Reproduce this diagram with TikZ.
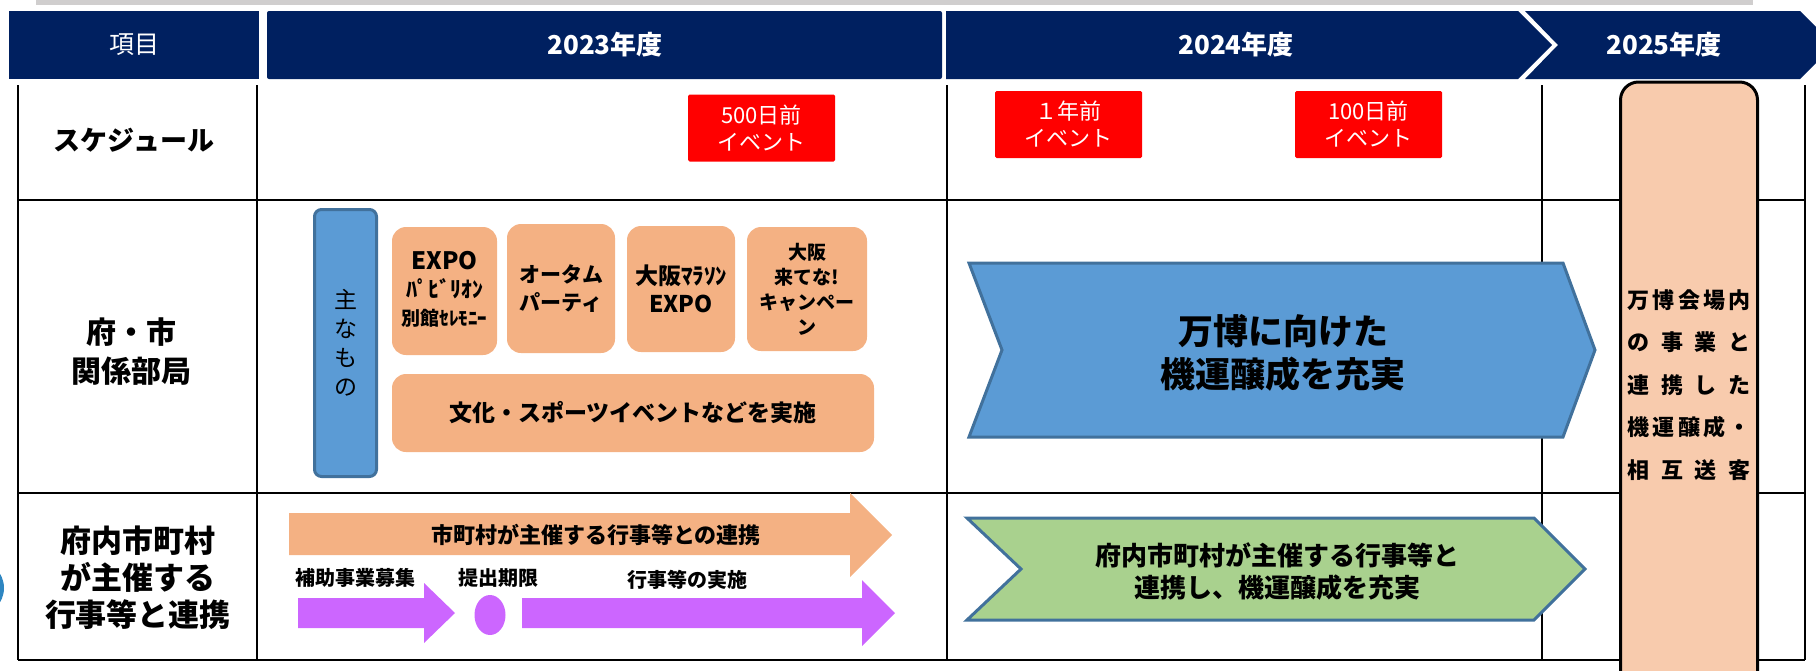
\documentclass[tikz,border=0pt]{standalone}
\usepackage{fontspec}
\setmainfont{Noto Sans CJK JP}
\usetikzlibrary{shapes.geometric}
\definecolor{navy}{HTML}{002060}
\definecolor{evred}{HTML}{FF0000}
\definecolor{oran}{HTML}{F4B183}
\definecolor{bluef}{HTML}{5B9BD5}
\definecolor{blued}{HTML}{41719C}
\definecolor{greenf}{HTML}{A9D18E}
\definecolor{peach}{HTML}{F8CBAD}
\definecolor{purp}{HTML}{CC66FF}
\definecolor{grayb}{HTML}{D0CECE}
\definecolor{edgeblue}{HTML}{2E86C1}
\newcommand\fsz[2]{\fontsize{#1pt}{#2pt}\selectfont}
\tikzset{
  hdrtext/.style={text=white, inner sep=0},
  gridline/.style={line width=2.5pt, black},
  redbox/.style={fill=evred, text=white, rounded corners=1.5pt, minimum width=147pt, minimum height=67pt, inner sep=0, align=center, font=\fsz{22}{27}},
  obox/.style={fill=oran, rounded corners=14pt, inner sep=0, align=center},
  label/.style={inner sep=0, align=center, text=black},
  chevblue/.style={fill=bluef, draw=blued, line width=3pt, line join=miter},
  chevgreen/.style={fill=greenf, draw=blued, line width=3pt, line join=miter},
  purparrow/.style={fill=purp},
}
\begin{document}
\begin{tikzpicture}[x=1pt, y=-1pt]
\useasboundingbox (0,0) rectangle (1816,670);
\clip (0,0) rectangle (1816,670);
% top gray bar
\fill[grayb] (36,0) rectangle (1753,5);
% header
\fill[navy] (9,11) rectangle (259,79);
\fill[navy, rounded corners=2pt] (267,11) rectangle (942,79);
\fill[navy] (946,11) -- (1518,11) -- (1552,45) -- (1518,79) -- (946,79) -- cycle;
\fill[navy] (1525,11) -- (1800,11) -- (1834,45) -- (1800,79) -- (1525,79) -- (1558,45) -- cycle;
\node[hdrtext, font=\fsz{25}{25}] (hitem) at (134,45) {項目};
\node[hdrtext, font=\bfseries\fsz{26}{26}] (h2023) at (605,45) {2023年度};
\node[hdrtext, font=\bfseries\fsz{26}{26}] (h2024) at (1236,45) {2024年度};
\node[hdrtext, font=\bfseries\fsz{26}{26}] (h2025) at (1664,45) {2025年度};
% grid
\draw[gridline] (18,85) -- (18,660);
\draw[gridline] (257,85) -- (257,660);
\draw[gridline] (947,85) -- (947,660);
\draw[gridline] (1542,85) -- (1542,660);
\draw[gridline] (1805,85) -- (1805,660);
\draw[gridline] (18,200) -- (1805,200);
\draw[gridline] (18,493) -- (1805,493);
\draw[gridline] (18,660) -- (1805,660);
% edge circle
\fill[edgeblue] (-24,588) circle (28);
% row labels
\node[label, font=\bfseries\fsz{27}{27}] (lsched) at (134,140) {スケジュール};
\node[label, font=\bfseries\fsz{30}{39}] (lfu) at (131,352) {府・市\\関係部局};
\node[label, font=\bfseries\fsz{31}{37}] (lmuni) at (138,578) {府内市町村\\が主催する\\行事等と連携};
% schedule events
\node[redbox] (e500) at (761.5,128) {500日前\\イベント};
\node[redbox] (e1y) at (1068.5,124.5) {１年前\\イベント};
\node[redbox] (e100) at (1368.5,124.5) {100日前\\イベント};
% 2025 box
\node[fill=peach, draw=black, line width=3pt, rounded corners=18pt, minimum width=137pt, minimum height=620pt, inner sep=0] (venue) at (1689,392) {};
\node[label, font=\bfseries\fsz{22}{42.5}] (venuetext) at (1689,385) {\makebox[123pt][s]{万\hfill 博\hfill 会\hfill 場\hfill 内}\\\makebox[123pt][s]{の\hfill 事\hfill 業\hfill と}\\\makebox[123pt][s]{連\hfill 携\hfill し\hfill た}\\\makebox[123pt][s]{機\hfill 運\hfill 醸\hfill 成\hfill ・}\\\makebox[123pt][s]{相\hfill 互\hfill 送\hfill 客}};
% main things
\node[fill=bluef, draw=blued, line width=3pt, rounded corners=7pt, minimum width=62pt, minimum height=267pt, inner sep=0, align=center, font=\fsz{23}{29}] (main) at (345.5,343) {主\\な\\も\\の};
\node[obox, minimum width=105pt, minimum height=128pt] (o1) at (444.5,291) {};
\node[label, font=\bfseries\fsz{24}{28}] (o1t) at (444.5,289) {EXPO\\{\fsz{22}{28}ﾊﾟﾋﾞﾘｵﾝ}\\{\fsz{19}{28}別館ｾﾚﾓﾆｰ}};
\node[obox, minimum width=108pt, minimum height=129pt, font=\bfseries\fsz{21}{28}] (o2) at (561,288.5) {オータム\\パーティ};
\node[obox, minimum width=108pt, minimum height=126pt, font=\bfseries\fsz{23}{28}] (o3) at (681,289) {大阪ﾏﾗｿﾝ\\EXPO};
\node[obox, minimum width=120pt, minimum height=124pt, font=\bfseries\fsz{19}{25}] (o4) at (807,289) {大阪\\来てな!\\キャンペー\\ン};
\node[obox, minimum width=482pt, minimum height=78pt, font=\bfseries\fsz{23}{23}] (o5) at (633,413) {文化・スポーツイベントなどを実施};
% big blue chevron
\draw[chevblue] (969,263) -- (1563,263) -- (1595,350) -- (1563,437) -- (969,437) -- (1002,350) -- cycle;
\node[label, font=\bfseries\fsz{35}{43}] (bluetext) at (1283,353) {万博に向けた\\機運醸成を充実};
% orange arrow
\fill[oran] (289,513) -- (850,513) -- (850,493) -- (892,535) -- (850,577) -- (850,555) -- (289,555) -- cycle;
\node[label, font=\bfseries\fsz{22}{22}] (oatext) at (596,535) {市町村が主催する行事等との連携};
% purple arrows
\node[label, font=\bfseries\fsz{20}{20}] (lsub) at (355,578) {補助事業募集};
\node[label, font=\bfseries\fsz{20}{20}] (ldead) at (498,578) {提出期限};
\node[label, font=\bfseries\fsz{20}{20}] (limpl) at (687,580) {行事等の実施};
\fill[purparrow] (298,598) -- (424,598) -- (424,583) -- (455,613) -- (424,643) -- (424,628) -- (298,628) -- cycle;
\node[ellipse, fill=purp, minimum width=31pt, minimum height=40pt, inner sep=0] (dead) at (490,615) {};
\fill[purparrow] (522,598) -- (862,598) -- (862,580) -- (895,613) -- (862,646) -- (862,628) -- (522,628) -- cycle;
% green chevron
\draw[chevgreen] (967,518) -- (1534,518) -- (1585,569) -- (1534,620) -- (967,620) -- (1021,569) -- cycle;
\node[label, font=\bfseries\fsz{26}{32}] (greentext) at (1277,572) {府内市町村が主催する行事等と\\連携し、機運醸成を充実};
\end{tikzpicture}
\end{document}
